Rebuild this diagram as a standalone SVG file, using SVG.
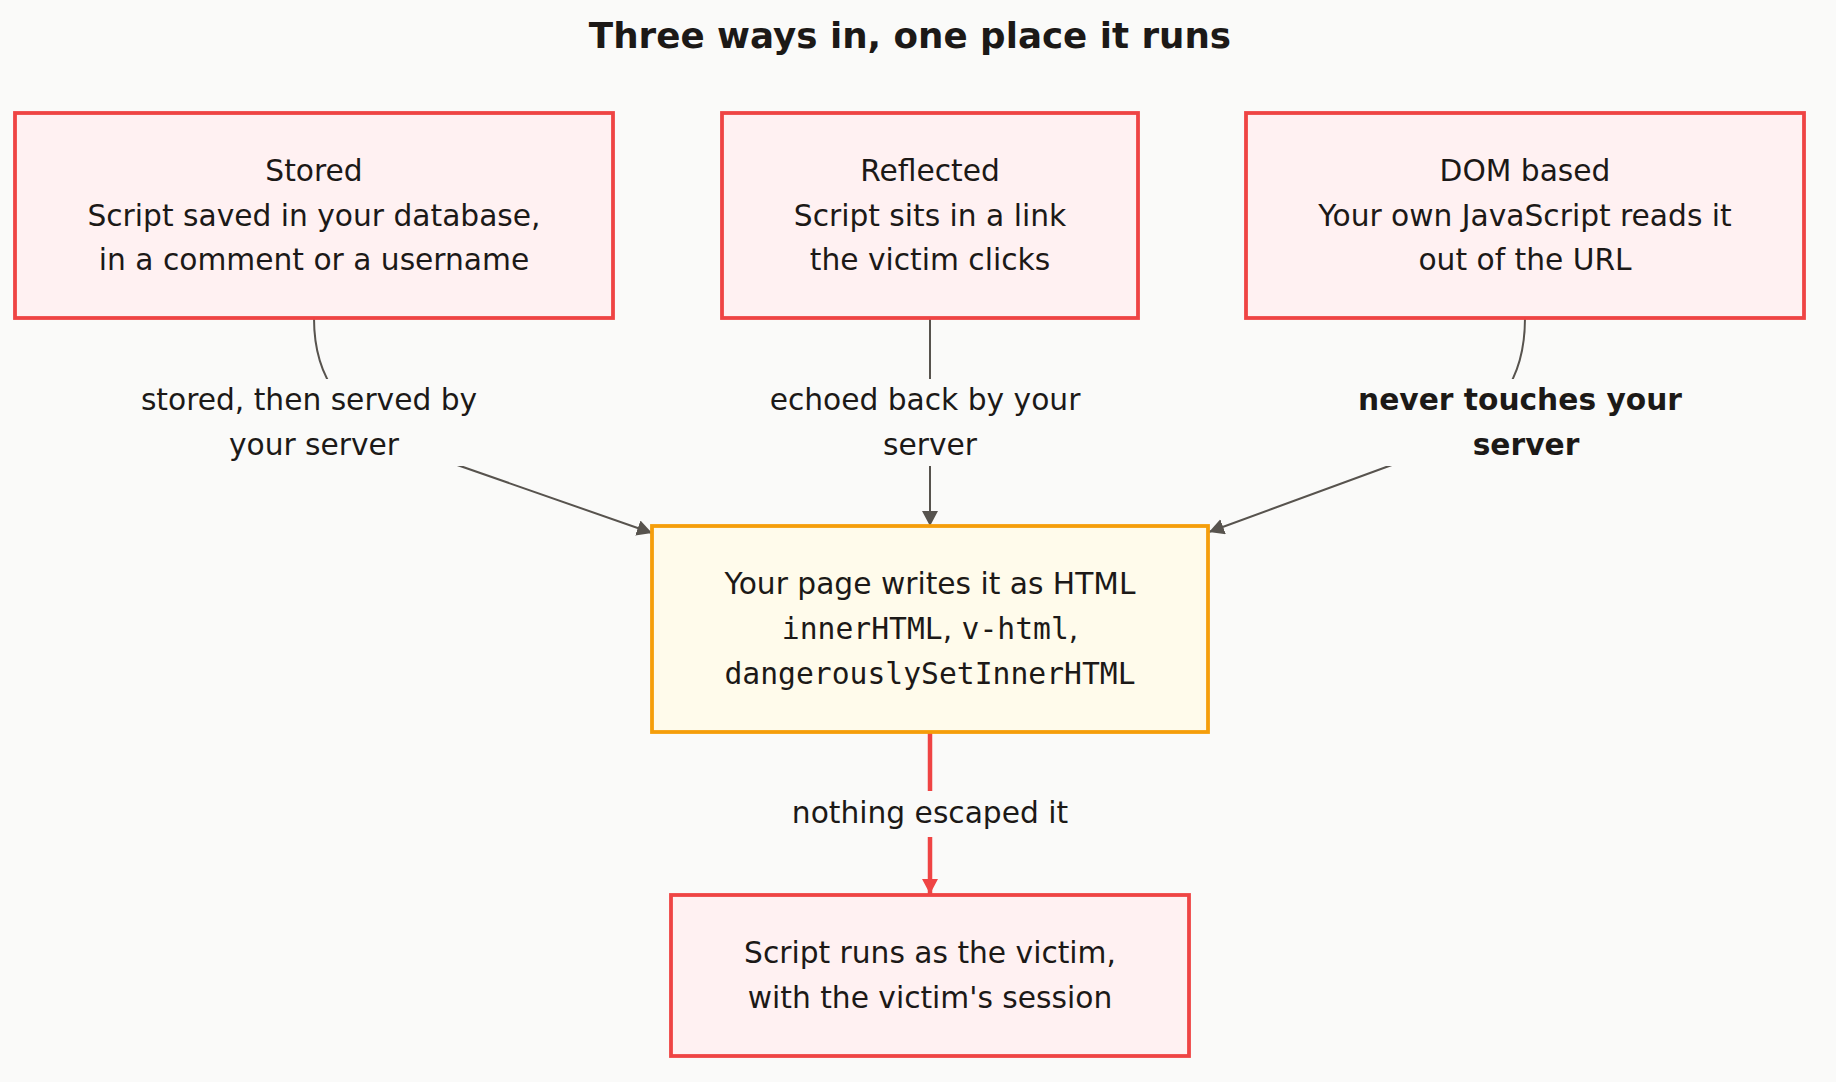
<svg xmlns="http://www.w3.org/2000/svg" width="1836" height="1082" viewBox="0 0 1836 1082">
<style>
  .bg { fill: #fafaf9; }
  .red { fill: #fff1f2; stroke: #ef4444; stroke-width: 3.8; }
  .amber { fill: #fffbeb; stroke: #f59e0b; stroke-width: 3.8; }
  text { font-family: "DejaVu Sans", "Noto Sans", sans-serif; fill: #1c1917; font-size: 29.7px; text-anchor: middle; }
  .title { font-size: 35.7px; font-weight: bold; }
  .mono { font-family: "DejaVu Sans Mono", "Liberation Mono", monospace; }
  .b { font-weight: bold; }
  .edge { fill: none; stroke: #57534e; stroke-width: 2; }
  .edge-red { fill: none; stroke: #ef4444; stroke-width: 4.5; }
  .lbl { fill: #fafaf9; }
</style>
<defs>
  <marker id="arrow" markerUnits="userSpaceOnUse" markerWidth="16" markerHeight="18" refX="15" refY="8" orient="auto">
    <path d="M0,0 L15,8 L0,16 z" fill="#57534e"/>
  </marker>
  <marker id="arrow-red" markerUnits="userSpaceOnUse" markerWidth="16" markerHeight="18" refX="15" refY="8" orient="auto">
    <path d="M0,0 L15,8 L0,16 z" fill="#ef4444"/>
  </marker>
</defs>
<rect class="bg" x="0" y="0" width="1836" height="1082"/>
<text class="title" x="910" y="48">Three ways in, one place it runs</text>

<g id="connectors">
  <g id="edge-stored">
    <path class="edge" d="M314,318 C314,380 340,415 420,452 L652,533" marker-end="url(#arrow)"/>
    <rect class="lbl" x="136" y="379" width="356" height="87"/>
    <text x="309" y="410">stored, then served by</text>
    <text x="314" y="455">your server</text>
  </g>
  <g id="edge-reflected">
    <path class="edge" d="M930,318 L930,526" marker-end="url(#arrow)"/>
    <rect class="lbl" x="764" y="379" width="330" height="87"/>
    <text x="925" y="410">echoed back by your</text>
    <text x="930" y="455">server</text>
  </g>
  <g id="edge-dom">
    <path class="edge" d="M1525,318 C1525,380 1500,415 1430,451 L1209,532" marker-end="url(#arrow)"/>
    <rect class="lbl" x="1352" y="379" width="340" height="87"/>
    <text class="b" x="1520" y="410">never touches your</text>
    <text class="b" x="1526" y="455">server</text>
  </g>
  <g id="edge-run">
    <path class="edge-red" d="M930,732 L930,894" marker-end="url(#arrow-red)"/>
    <rect class="lbl" x="788" y="791" width="284" height="46"/>
    <text x="930" y="823">nothing escaped it</text>
  </g>
</g>

<g id="node-stored">
  <rect class="red" x="15" y="113" width="598" height="205"/>
  <text x="314" y="181">Stored</text>
  <text x="314" y="226">Script saved in your database,</text>
  <text x="314" y="270">in a comment or a username</text>
</g>
<g id="node-reflected">
  <rect class="red" x="722" y="113" width="416" height="205"/>
  <text x="930" y="181">Reflected</text>
  <text x="930" y="226">Script sits in a link</text>
  <text x="930" y="270">the victim clicks</text>
</g>
<g id="node-dom">
  <rect class="red" x="1246" y="113" width="558" height="205"/>
  <text x="1525" y="181">DOM based</text>
  <text x="1525" y="226">Your own JavaScript reads it</text>
  <text x="1525" y="270">out of the URL</text>
</g>
<g id="node-html">
  <rect class="amber" x="652" y="526" width="556" height="206"/>
  <text x="930" y="594">Your page writes it as HTML</text>
  <text x="930" y="639"><tspan class="mono">innerHTML</tspan>, <tspan class="mono">v-html</tspan>,</text>
  <text x="930" y="684" class="mono">dangerouslySetInnerHTML</text>
</g>
<g id="node-runs">
  <rect class="red" x="671" y="895" width="518" height="161"/>
  <text x="930" y="963">Script runs as the victim,</text>
  <text x="930" y="1008">with the victim's session</text>
</g>
</svg>
